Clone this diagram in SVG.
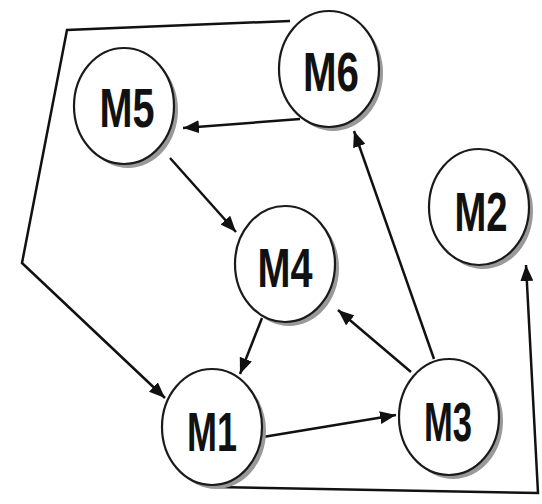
<svg xmlns="http://www.w3.org/2000/svg" width="542" height="504" viewBox="0 0 542 504">
  <defs>
    <marker id="arrow" markerUnits="userSpaceOnUse" markerWidth="17" markerHeight="13" refX="16" refY="6.5" orient="auto">
      <path d="M0,0 L16,6.5 L0,13 z" fill="#111"/>
    </marker>
    <style>
      .edge { fill: none; stroke: #111; stroke-width: 2.5; stroke-linejoin: miter; }
      .shadow { fill: #999; }
      .disc { fill: #fff; stroke: #1a1a1a; stroke-width: 2.2; }
      .label { font-family: "Liberation Sans", Arial, sans-serif; font-weight: bold; font-size: 56px; fill: #111; text-anchor: middle; }
    </style>
  </defs>
  <rect width="542" height="504" fill="#fff"/>

  <g id="connectors">
    <path class="edge" d="M290,21 L67,30 L22,263 L165,398" marker-end="url(#arrow)"/>
    <path class="edge" d="M215,487 L538,493 L526,265" marker-end="url(#arrow)"/>
    <line class="edge" x1="300" y1="119" x2="183" y2="128" marker-end="url(#arrow)"/>
    <line class="edge" x1="170" y1="158" x2="236" y2="232" marker-end="url(#arrow)"/>
    <line class="edge" x1="262" y1="318" x2="240" y2="374" marker-end="url(#arrow)"/>
    <line class="edge" x1="263" y1="437" x2="396" y2="415" marker-end="url(#arrow)"/>
    <line class="edge" x1="411" y1="372" x2="338" y2="310" marker-end="url(#arrow)"/>
    <line class="edge" x1="434" y1="359" x2="354" y2="131" marker-end="url(#arrow)"/>
  </g>

  <g id="M5">
    <ellipse class="shadow" cx="128" cy="110" rx="50" ry="58"/>
    <ellipse class="disc" cx="124" cy="106" rx="50" ry="58"/>
    <text class="label" x="127" y="127" textLength="55" lengthAdjust="spacingAndGlyphs">M5</text>
  </g>
  <g id="M6">
    <ellipse class="shadow" cx="333" cy="73" rx="50" ry="58"/>
    <ellipse class="disc" cx="329" cy="69" rx="50" ry="58"/>
    <text class="label" x="331" y="91" textLength="56" lengthAdjust="spacingAndGlyphs">M6</text>
  </g>
  <g id="M2">
    <ellipse class="shadow" cx="483" cy="211" rx="50" ry="58"/>
    <ellipse class="disc" cx="479" cy="207" rx="50" ry="58"/>
    <text class="label" x="481" y="231" textLength="53" lengthAdjust="spacingAndGlyphs">M2</text>
  </g>
  <g id="M4">
    <ellipse class="shadow" cx="289" cy="268" rx="50" ry="58"/>
    <ellipse class="disc" cx="285" cy="264" rx="50" ry="58"/>
    <text class="label" x="285" y="287" textLength="55" lengthAdjust="spacingAndGlyphs">M4</text>
  </g>
  <g id="M1">
    <ellipse class="shadow" cx="216" cy="431" rx="50" ry="58"/>
    <ellipse class="disc" cx="212" cy="427" rx="50" ry="58"/>
    <text class="label" x="212" y="451" textLength="50" lengthAdjust="spacingAndGlyphs">M1</text>
  </g>
  <g id="M3">
    <ellipse class="shadow" cx="453" cy="421" rx="50" ry="58"/>
    <ellipse class="disc" cx="449" cy="417" rx="50" ry="58"/>
    <text class="label" x="448" y="441" textLength="48" lengthAdjust="spacingAndGlyphs">M3</text>
  </g>
</svg>
